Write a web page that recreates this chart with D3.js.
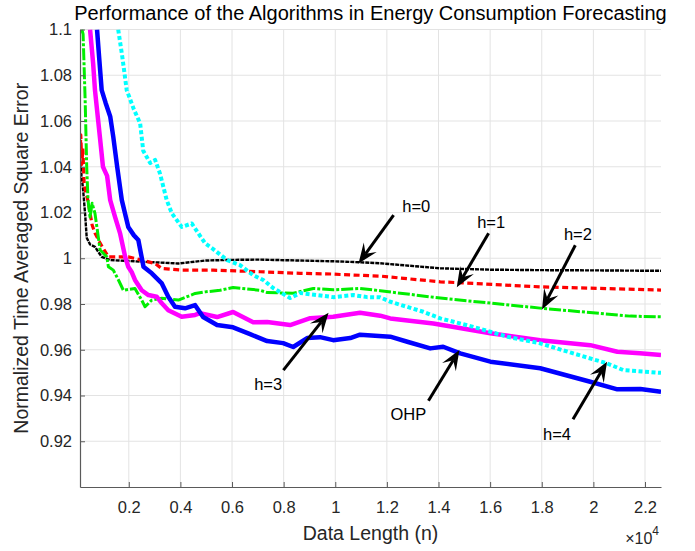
<!DOCTYPE html>
<html>
<head>
<meta charset="utf-8">
<script src="https://cdn.jsdelivr.net/npm/d3@7/dist/d3.min.js"></script>
<style>
  body { margin: 0; background: #fff; }
  text { font-family: "Liberation Sans", Arial, Helvetica, sans-serif; }
</style>
</head>
<body>
<svg width="695" height="551"></svg>
<script>
// Data length n is in units of 10^4, values are the normalized error
var h0 = [[0.011,1.044],[0.017,1.036],[0.023,1.030],[0.031,1.019],[0.037,1.009],[0.050,1.006],
  [0.069,1.005],[0.095,1.0006],[0.128,0.9992],[0.250,0.9985],[0.392,0.9977],
  [0.496,0.9990],[0.604,0.9993],[0.709,0.9994],[0.864,0.9990],[1.019,0.9986],[1.100,0.9982],
  [1.174,0.9978],[1.407,0.9956],[1.600,0.9950],[1.794,0.9948],[2.000,0.9947],[2.262,0.9945]];

var h1 = [[0.011,1.045],[0.014,1.054],[0.018,1.041],[0.022,1.048],[0.027,1.033],[0.031,1.030],
  [0.042,1.025],[0.058,1.0145],[0.069,1.011],[0.089,1.0066],[0.121,1.0006],[0.198,1.0006],
  [0.250,0.9992],[0.302,0.9977],[0.328,0.9955],[0.405,0.9948],[0.527,0.9948],[0.709,0.9941],
  [0.864,0.9934],[0.992,0.9931],[1.019,0.9929],[1.174,0.9922],[1.407,0.9897],[1.794,0.9875],
  [2.100,0.9866],[2.262,0.9861]];

var h2 = [[0.018,1.100],[0.023,1.098],[0.031,1.069],[0.037,1.040],[0.042,1.0254],[0.050,1.018],
  [0.058,1.024],[0.069,1.0196],[0.089,1.0036],[0.115,1.0006],[0.121,0.9963],[0.140,0.9948],
  [0.160,0.9905],[0.179,0.9860],[0.224,0.9868],[0.250,0.9817],[0.263,0.9788],[0.289,0.9817],
  [0.328,0.9825],[0.392,0.9817],[0.457,0.9846],[0.496,0.9853],[0.553,0.9860],
  [0.604,0.9872],[0.709,0.9860],[0.736,0.9850],[0.837,0.9847],[0.915,0.9868],[0.992,0.9862],
  [1.096,0.9868],[1.174,0.9858],[1.407,0.9826],[1.794,0.9782],[2.143,0.9747],[2.262,0.9744]];

var h3 = [[0.050,1.100],[0.062,1.085],[0.069,1.0735],[0.089,1.052],[0.100,1.040],[0.108,1.038],
  [0.116,1.036],[0.128,1.0254],[0.147,1.018],[0.166,1.011],[0.186,1.0006],[0.198,0.9963],
  [0.211,0.9940],[0.224,0.9905],[0.250,0.9860],[0.276,0.9839],[0.308,0.9832],[0.328,0.9803],
  [0.353,0.9773],[0.405,0.9744],[0.457,0.9752],[0.476,0.9760],[0.542,0.9743],[0.604,0.9765],
  [0.682,0.9720],[0.736,0.9721],[0.825,0.9708],[0.903,0.9738],[0.992,0.9744],[1.096,0.9762],
  [1.174,0.9749],[1.213,0.9737],[1.380,0.9715],[1.601,0.9672],[1.794,0.9642],[1.988,0.9620],
  [2.093,0.9591],[2.180,0.9585],[2.262,0.9577]];

var h4 = [[0.159,1.100],[0.175,1.088],[0.192,1.0735],[0.220,1.065],[0.244,1.059],[0.256,1.047],
  [0.283,1.0416],[0.302,1.043],[0.321,1.037],[0.347,1.0254],[0.367,1.0196],[0.405,1.0137],
  [0.444,1.0152],[0.470,1.0108],[0.496,1.0065],[0.527,1.0040],[0.581,0.9992],[0.631,0.9970],
  [0.682,0.9926],[0.721,0.9905],[0.759,0.9870],[0.825,0.9826],[0.864,0.9848],[0.930,0.9839],
  [0.992,0.9830],[1.070,0.9839],[1.124,0.9830],[1.174,0.9829],[1.213,0.9810],[1.341,0.9766],
  [1.407,0.9737],[1.535,0.9700],[1.667,0.9657],[1.794,0.9628],[1.922,0.9584],[2.054,0.9540],
  [2.116,0.9511],[2.262,0.9499]];

var ohp = [[0.077,1.100],[0.085,1.088],[0.095,1.0735],[0.110,1.068],[0.128,1.062],[0.140,1.053],
  [0.155,1.040],[0.173,1.0254],[0.198,1.0137],[0.220,1.0100],[0.237,1.0080],[0.257,0.9963],
  [0.289,0.9934],[0.328,0.9890],[0.353,0.9832],[0.379,0.9788],[0.418,0.9781],[0.457,0.9795],
  [0.488,0.9743],[0.542,0.9708],[0.604,0.9698],[0.670,0.9668],[0.736,0.9638],
  [0.798,0.9629],[0.837,0.9612],[0.891,0.9651],[0.941,0.9655],[0.992,0.9642],[1.058,0.9651],
  [1.096,0.9666],[1.213,0.9657],[1.279,0.9635],[1.368,0.9606],[1.418,0.9613],[1.484,0.9584],
  [1.601,0.9548],[1.794,0.9519],[1.988,0.9460],[2.093,0.9427],[2.182,0.9428],[2.262,0.9416]];

var xTicks = [0.2, 0.4, 0.6, 0.8, 1, 1.2, 1.4, 1.6, 1.8, 2, 2.2];
var yTicks = [0.92, 0.94, 0.96, 0.98, 1, 1.02, 1.04, 1.06, 1.08, 1.1];

// annotation: label, text position, arrow tail, arrow head (data coords)
var notes = [
  {label: "h=0", tx: 1.314, ty: 1.0202, x1: 1.226, y1: 1.0189, x2: 1.090, y2: 0.9977},
  {label: "h=1", tx: 1.604, ty: 1.0132, x1: 1.594, y1: 1.0109, x2: 1.471, y2: 0.9873},
  {label: "h=2", tx: 1.940, ty: 1.0079, x1: 1.930, y1: 1.0057, x2: 1.801, y2: 0.9776},
  {label: "h=3", tx: 0.740, ty: 0.9424, x1: 0.799, y1: 0.9511, x2: 0.974, y2: 0.9762},
  {label: "OHP", tx: 1.283, ty: 0.9293, x1: 1.361, y1: 0.9377, x2: 1.481, y2: 0.9599},
  {label: "h=4", tx: 1.859, ty: 0.9205, x1: 1.921, y1: 0.9296, x2: 2.053, y2: 0.9548}
];

var svg = d3.select("svg");

var x = d3.scaleLinear().domain([0.011, 2.262]).range([80, 661]);
var y = d3.scaleLinear().domain([0.9, 1.1]).range([487, 29.5]);

var fmt = function(d) { return String(+d.toFixed(2)); };

// grid
var grid = svg.append("g").attr("stroke", "#e3e3e3").attr("stroke-width", 1);
grid.selectAll("line.v").data(xTicks).enter().append("line")
    .attr("x1", function(d){ return x(d); }).attr("x2", function(d){ return x(d); })
    .attr("y1", y(0.9)).attr("y2", y(1.1));
grid.selectAll("line.h").data(yTicks).enter().append("line")
    .attr("x1", x.range()[0]).attr("x2", x.range()[1])
    .attr("y1", function(d){ return y(d); }).attr("y2", function(d){ return y(d); });

svg.append("clipPath").attr("id", "plotclip")
  .append("rect").attr("x", 80).attr("y", y(1.1)).attr("width", 581).attr("height", y(0.9) - y(1.1));

var line = d3.line().x(function(d){ return x(d[0]); }).y(function(d){ return y(d[1]); });

var series = [
  {data: h0, color: "#000000", width: 2.4, dash: "4,1"},
  {data: h1, color: "#ff0000", width: 3.2, dash: "6,3.5"},
  {data: h2, color: "#00ee00", width: 3, dash: "12,2,3,2"},
  {data: h3, color: "#ff00ff", width: 4.5, dash: null},
  {data: ohp, color: "#0000ff", width: 4.5, dash: null},
  {data: h4, color: "#00ffff", width: 4, dash: "4,2.5"}
];

svg.append("g").attr("clip-path", "url(#plotclip)")
  .selectAll("path").data(series).enter().append("path")
    .attr("d", function(d){ return line(d.data); })
    .attr("fill", "none")
    .attr("stroke", function(d){ return d.color; })
    .attr("stroke-width", function(d){ return d.width; })
    .attr("stroke-dasharray", function(d){ return d.dash; })
    .attr("stroke-linejoin", "round");

// axes
var xAxis = svg.append("g").attr("transform", "translate(0," + y(0.9) + ")")
  .call(d3.axisBottom(x).tickValues(xTicks).tickFormat(fmt).tickSizeInner(-5).tickSizeOuter(0).tickPadding(14));
var yAxis = svg.append("g").attr("transform", "translate(" + x(0.011) + ",0)")
  .call(d3.axisLeft(y).tickValues(yTicks).tickFormat(fmt).tickSizeInner(-5).tickSizeOuter(0).tickPadding(8));

[xAxis, yAxis].forEach(function(a) {
  a.select(".domain").attr("stroke", "#5a5a5a").attr("stroke-width", 1.2);
  a.selectAll(".tick line").attr("stroke", "#5a5a5a");
  a.selectAll(".tick text").attr("fill", "#262626").style("font-size", "16.5px")
    .style("font-family", "'Liberation Sans', Arial, sans-serif");
});

// titles
svg.append("text").attr("x", 370.5).attr("y", 20).attr("text-anchor", "middle")
  .style("font-size", "20px").attr("fill", "#000")
  .text("Performance of the Algorithms in Energy Consumption Forecasting");

svg.append("text").attr("x", 370.5).attr("y", 540).attr("text-anchor", "middle")
  .style("font-size", "19.5px").attr("fill", "#262626")
  .text("Data Length (n)");

svg.append("text").attr("transform", "translate(28," + ((y(0.9) + y(1.1)) / 2) + ") rotate(-90)")
  .attr("text-anchor", "middle").style("font-size", "19.5px").attr("fill", "#262626")
  .text("Normalized Time Averaged Square Error");

var expo = svg.append("text").attr("x", 659).attr("y", 544).attr("text-anchor", "end")
  .attr("fill", "#262626").style("font-size", "16px");
expo.append("tspan").text("\u00d710");
expo.append("tspan").attr("dy", -9).style("font-size", "12px").text("4");

// annotations with MATLAB-like arrows
var ann = svg.append("g");
notes.forEach(function(n) {
  var ax = x(n.x1), ay = y(n.y1), bx = x(n.x2), by = y(n.y2);
  var dx = bx - ax, dy = by - ay, len = Math.sqrt(dx * dx + dy * dy);
  var ux = dx / len, uy = dy / len, px = -uy, py = ux;
  var L = 20, W = 8, notch = 12;
  ann.append("line")
    .attr("x1", ax).attr("y1", ay)
    .attr("x2", bx - ux * notch).attr("y2", by - uy * notch)
    .attr("stroke", "#000").attr("stroke-width", 3);
  var pts = [
    [bx, by],
    [bx - ux * L + px * W, by - uy * L + py * W],
    [bx - ux * notch, by - uy * notch],
    [bx - ux * L - px * W, by - uy * L - py * W]
  ];
  ann.append("polygon").attr("points", pts.map(function(p){ return p.join(","); }).join(" "))
    .attr("fill", "#000");
  ann.append("text").attr("x", x(n.tx)).attr("y", y(n.ty)).attr("text-anchor", "middle")
    .style("font-size", "16.5px").attr("fill", "#000").text(n.label);
});
</script>
</body>
</html>
